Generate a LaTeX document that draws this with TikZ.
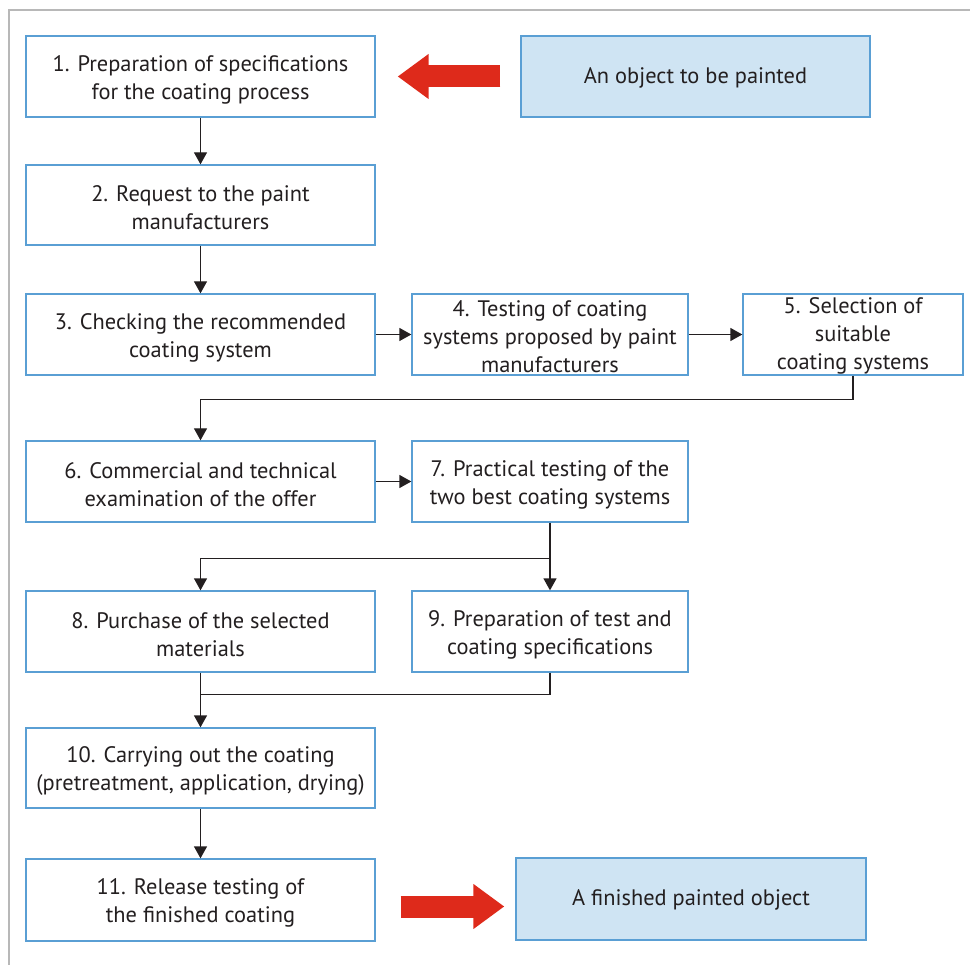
\documentclass[tikz,border=0pt]{standalone}
\usepackage{fontspec}
\setmainfont{PT Sans}
\usetikzlibrary{arrows.meta,calc}
\definecolor{boxblue}{HTML}{5A9FD4}
\definecolor{objfill}{HTML}{CFE4F3}
\definecolor{arrowred}{HTML}{DE2A1B}
\definecolor{framegray}{HTML}{B8B8B8}
\definecolor{textblack}{HTML}{231F20}
\newcommand{\ts}{\rule{0pt}{22pt}}
\newcommand{\tsm}{\rule{0pt}{19.5pt}}
\newcommand{\tss}{\rule{0pt}{18pt}}
\begin{document}
\begin{tikzpicture}[x=1pt,y=-1pt,
  box/.style={draw=boxblue,line width=1.3pt,fill=white,align=center,inner sep=0pt,
    text=textblack,font=\fontsize{22.4}{28}\selectfont},
  objbox/.style={box,fill=objfill},
  conn/.style={line width=1.3pt,textblack,-{Triangle[width=13pt,length=12pt]}},
  plain/.style={line width=1.3pt,textblack},
  bigarrow/.style={arrowred,line width=22pt,-{Triangle[width=43pt,length=31pt]}}]
\useasboundingbox (0,0) rectangle (970,965);
\draw[framegray,line width=2pt] (9,965) -- (9,10) -- (970,10);

\node[box,minimum width=349pt,minimum height=81pt] (b1) at (200.5,76.5) {\ts 1. Preparation of specifications\\for the coating process};
\node[objbox,minimum width=349pt,minimum height=81pt] (o1) at (695.5,76.5) {\tss An object to be painted};
\node[box,minimum width=349pt,minimum height=80pt] (b2) at (200.5,205) {\ts 2. Request to the paint\\manufacturers};
\node[box,minimum width=349pt,minimum height=81pt] (b3) at (200.5,334.5) {\ts 3. Checking the recommended\\coating system};
\node[box,minimum width=276pt,minimum height=81pt] (b4) at (550,334.5) {\tsm 4. Testing of coating\\systems proposed by paint\\manufacturers};
\node[box,minimum width=220pt,minimum height=81pt] (b5) at (853,334.5) {\tsm 5. Selection of\\suitable\\coating systems};
\node[box,minimum width=349pt,minimum height=81pt] (b6) at (200.5,481.5) {\ts 6. Commercial and technical\\examination of the offer};
\node[box,minimum width=276pt,minimum height=81pt] (b7) at (550,481.5) {\ts 7. Practical testing of the\\two best coating systems};
\node[box,minimum width=349pt,minimum height=81pt] (b8) at (200.5,631.5) {\ts 8. Purchase of the selected\\materials};
\node[box,minimum width=276pt,minimum height=81pt] (b9) at (550,631.5) {\ts 9. Preparation of test and\\coating specifications};
\node[box,minimum width=349pt,minimum height=80pt] (b10) at (200.5,768) {\ts 10. Carrying out the coating\\(pretreatment, application, drying)};
\node[box,minimum width=349pt,minimum height=82pt] (b11) at (200.5,900) {\ts 11. Release testing of\\the finished coating};
\node[objbox,minimum width=350pt,minimum height=82pt] (o2) at (691,899) {\tss A finished painted object};

\draw[bigarrow] ($(o1.west)+(-20,0)$) -- ($(b1.east)+(22,0)$);
\draw[bigarrow] ($(b11.east)+(25,6.5)$) -- ($(o2.west)+(-11,7.5)$);

\draw[conn] (b1.south) -- (b2.north);
\draw[conn] (b2.south) -- (b3.north);
\draw[conn] (b3.east) -- (b4.west);
\draw[conn] (b4.east) -- (b5.west);
\draw[conn] (b5.south) -- ++(0,24) -| (b6.north);
\draw[conn] (b6.east) -- (b7.west);
\draw[conn] (b7.south) -- ++(0,36) coordinate (s7) -| (b8.north);
\draw[conn] (s7) -- (b9.north);
\draw[plain] (b8.south) -- (b10.north);
\draw[conn] (b9.south) -- ++(0,22) -| (b10.north);
\draw[conn] (b10.south) -- (b11.north);
\end{tikzpicture}
\end{document}
